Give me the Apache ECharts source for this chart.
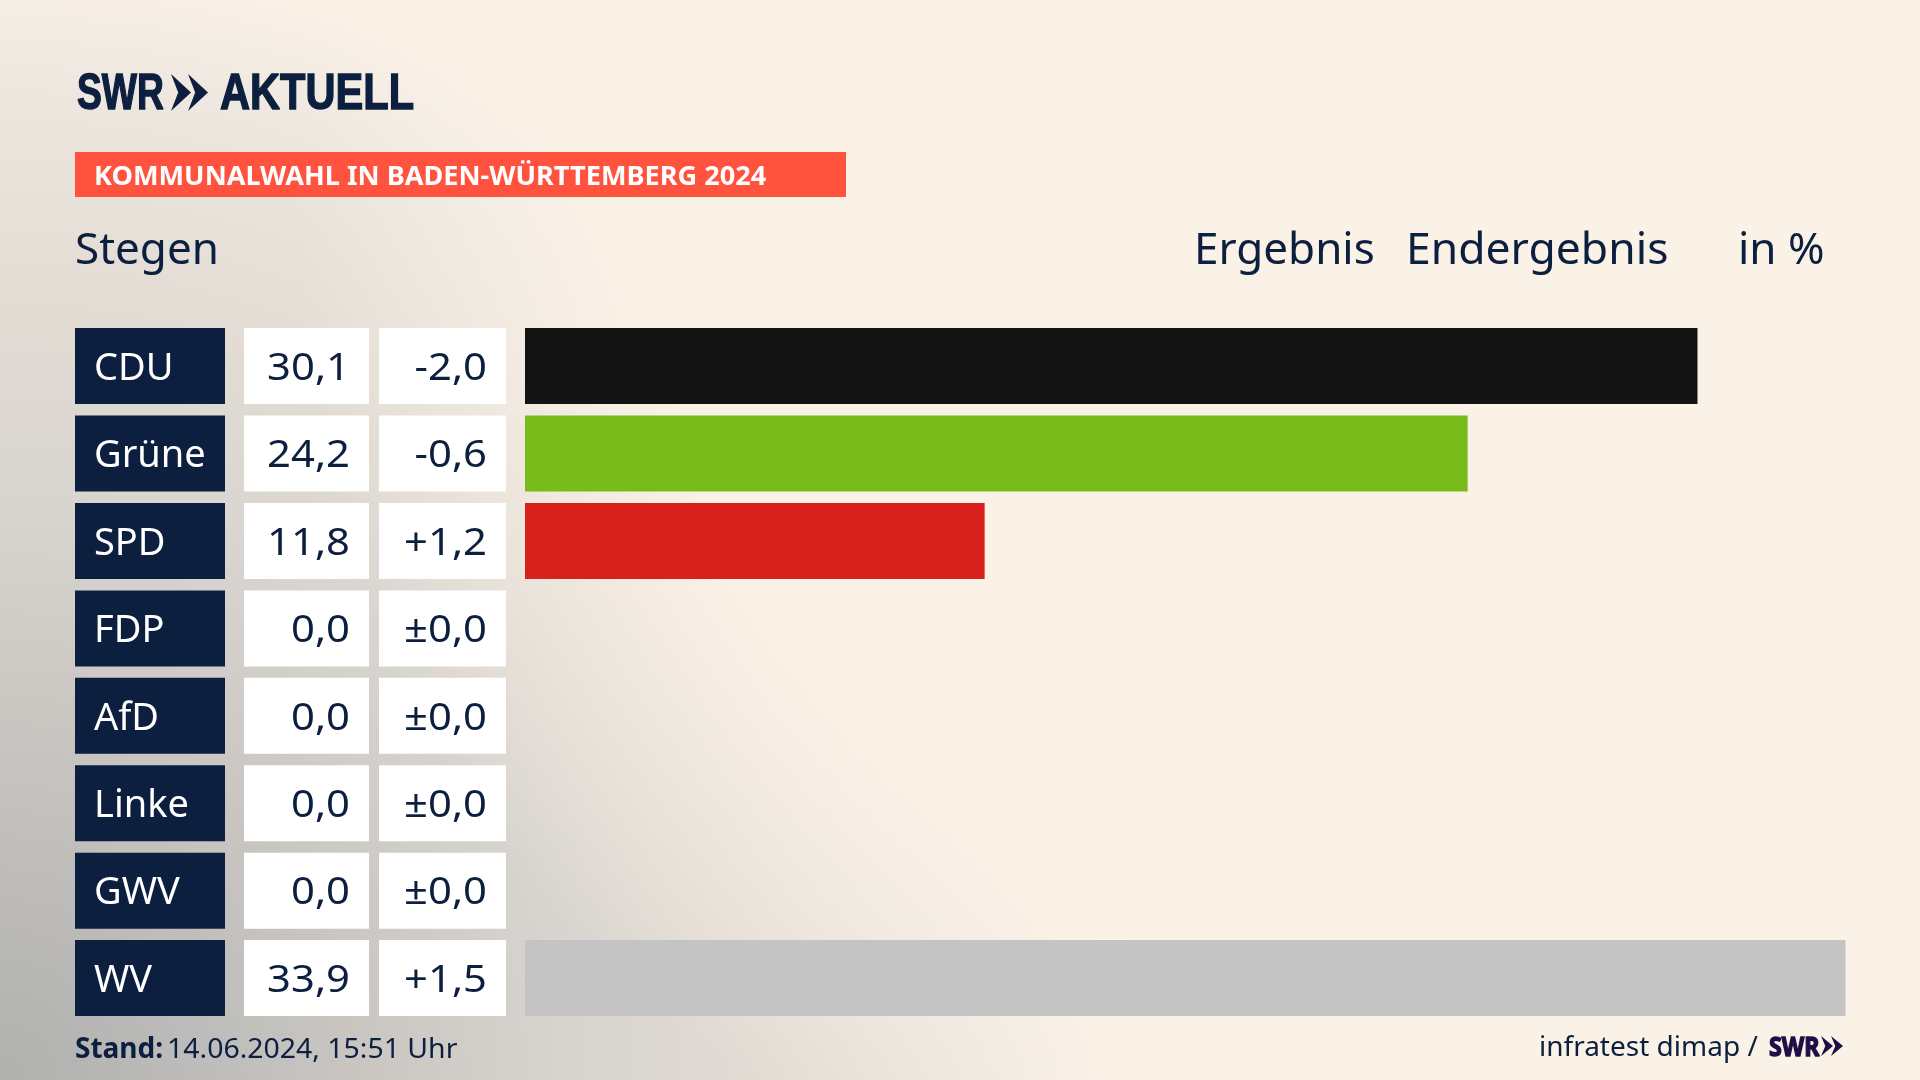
<!DOCTYPE html>
<html>
<head>
<meta charset="utf-8">
<title>Kommunalwahl Stegen</title>
<script src="https://cdn.jsdelivr.net/npm/echarts@6/dist/echarts.min.js"></script>
<style>
  html, body { margin: 0; padding: 0; background: #fbf2e7; }
  #chart { width: 1920px; height: 1080px; }
</style>
</head>
<body>
<div id="chart"></div>
<script>
var parties = ['CDU', 'Grüne', 'SPD', 'FDP', 'AfD', 'Linke', 'GWV', 'WV'];
var results = [30.1, 24.2, 11.8, 0.0, 0.0, 0.0, 0.0, 33.9];
var changes = [-2.0, -0.6, 1.2, 0.0, 0.0, 0.0, 0.0, 1.5];
var barColors = ['#131313', '#79bc1a', '#d8201c', '#ffd500', '#0f8ccc', '#c0107a', '#8a8a8a', '#c4c4c4'];

var NAVY = '#0c1f3f';
var BEIGE = '#fbf2e7';
var FONT = '"Noto Sans", sans-serif';
var LOGO_FONT = '"Liberation Sans", sans-serif';

function fmtResult(v) {
  return v.toFixed(1).replace('.', ',');
}
function fmtChange(v) {
  var sign = v > 0 ? '+' : (v < 0 ? '-' : '±');
  return sign + Math.abs(v).toFixed(1).replace('.', ',');
}

// y is the baseline; zrender has no alphabetic align, so go through middle
function label(x, y, text, size, opts) {
  opts = opts || {};
  return {
    type: 'text',
    x: x,
    y: y - size * 0.3,
    scaleX: opts.scaleX || 1,
    silent: true,
    style: {
      text: text,
      x: 0,
      y: 0,
      fill: opts.color || NAVY,
      stroke: opts.stroke || null,
      lineWidth: opts.stroke ? 1.4 : 0,
      fontFamily: opts.family || FONT,
      fontSize: size,
      fontWeight: opts.weight || 'normal',
      textAlign: opts.align || 'left',
      textVerticalAlign: 'middle'
    }
  };
}

// the two arrows of the SWR logo
function chevrons(x, top, h, w, gap, color) {
  var out = [];
  for (var i = 0; i < 2; i++) {
    var l = x + i * gap;
    out.push({
      type: 'polygon',
      silent: true,
      shape: {
        points: [[l, top], [l + w, top + h / 2], [l, top + h], [l + w * 0.36, top + h / 2]]
      },
      style: { fill: color }
    });
  }
  return out;
}

// table cells left of the bars: party, result, change
function renderCells(params, api) {
  var i = api.value(0);
  var y = api.coord([0, i])[1];
  var h = 76;
  var top = y - h / 2;
  function box(x, w, fill) {
    return { type: 'rect', shape: { x: x, y: top, width: w, height: h }, style: { fill: fill } };
  }
  function cell(x, text, fill, align, scale) {
    return {
      type: 'text',
      x: x,
      y: y + 3,
      scaleX: scale,
      style: {
        text: text,
        x: 0,
        y: 0,
        fill: fill,
        fontFamily: FONT,
        fontSize: 38,
        textAlign: align,
        textVerticalAlign: 'middle'
      }
    };
  }
  return {
    type: 'group',
    children: [
      box(75, 150, NAVY),
      box(244, 125, '#ffffff'),
      box(379, 127, '#ffffff'),
      cell(94, parties[i], '#ffffff', 'left', 1),
      cell(350, fmtResult(results[i]), NAVY, 'right', 1.1),
      cell(487, fmtChange(changes[i]), NAVY, 'right', 1.1)
    ]
  };
}

var graphics = [
  // beige wash that pulls the grey back from the middle of the picture
  {
    type: 'rect',
    silent: true,
    shape: { x: 0, y: 0, width: 1920, height: 1080 },
    style: {
      fill: {
        type: 'radial',
        x: 0.677,
        y: 0.23,
        r: 0.926,
        colorStops: [
          { offset: 0, color: 'rgba(251,242,231,1)' },
          { offset: 0.62, color: 'rgba(251,242,231,1)' },
          { offset: 1, color: 'rgba(251,242,231,0)' }
        ]
      }
    }
  },
  label(77, 110, 'SWR', 50, { weight: 'bold', family: LOGO_FONT, scaleX: 0.745, stroke: NAVY }),
  label(220, 110, 'AKTUELL', 50, { weight: 'bold', family: LOGO_FONT, scaleX: 0.832, stroke: NAVY }),
  {
    type: 'rect',
    silent: true,
    shape: { x: 75, y: 152, width: 771, height: 45 },
    style: { fill: '#ff533f' }
  },
  label(94, 185, 'KOMMUNALWAHL IN BADEN-WÜRTTEMBERG 2024', 27, { weight: 'bold', color: '#ffffff', scaleX: 1.005 }),
  label(75, 265, 'Stegen', 44),
  label(1194, 265, 'Ergebnis', 44),
  label(1406, 265, 'Endergebnis', 44, { scaleX: 1.01 }),
  label(1738, 265, 'in %', 44),
  label(75, 1058, 'Stand:', 28, { weight: 'bold' }),
  label(167, 1058, '14.06.2024, 15:51 Uhr', 28, { scaleX: 1.015 }),
  label(1539, 1056, 'infratest dimap /', 28),
  label(1769, 1056, 'SWR', 27, { weight: 'bold', color: '#1d0f45', scaleX: 0.86, stroke: '#1d0f45' })
].concat(
  chevrons(171, 74, 37, 20, 17, NAVY),
  chevrons(1821, 1036, 20, 12, 10, '#1d0f45')
);

var chart = echarts.init(document.getElementById('chart'));
chart.setOption({
  animation: false,
  backgroundColor: {
    type: 'radial',
    x: 0,
    y: 1,
    r: 1.05,
    colorStops: [
      { offset: 0, color: '#b0b0af' },
      { offset: 0.16, color: '#bcbbb9' },
      { offset: 0.335, color: '#cbc7c3' },
      { offset: 0.51, color: '#d8d4cf' },
      { offset: 0.69, color: '#e2dcd4' },
      { offset: 0.86, color: '#ece6df' },
      { offset: 1, color: BEIGE }
    ]
  },
  grid: { left: 525, top: 322.4, width: 1320.5, height: 699.4 },
  xAxis: { type: 'value', min: 0, max: 33.9, show: false },
  yAxis: { type: 'category', data: parties, inverse: true, show: false },
  graphic: graphics,
  series: [
    {
      type: 'bar',
      barWidth: 76,
      silent: true,
      data: results.map(function (v, i) {
        return { value: v, itemStyle: { color: barColors[i] } };
      })
    },
    {
      type: 'custom',
      silent: true,
      renderItem: renderCells,
      encode: { y: 0 },
      data: parties.map(function (p, i) { return [i]; })
    }
  ]
});
</script>
</body>
</html>
